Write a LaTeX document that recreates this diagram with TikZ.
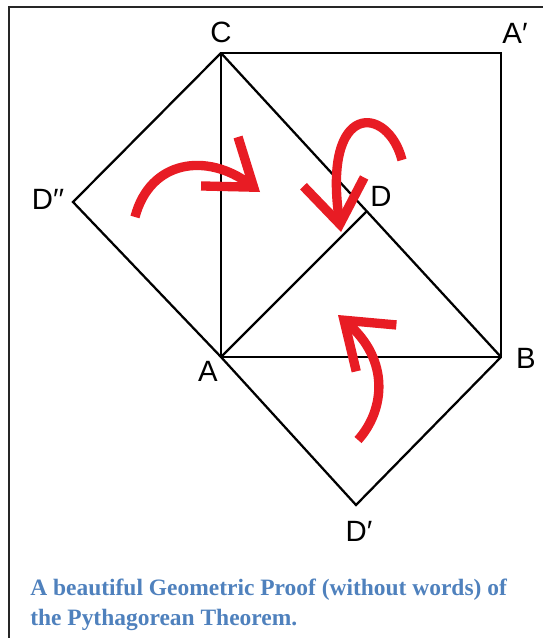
\documentclass[tikz,border=0pt]{standalone}
\usepackage{fontspec}
\setmainfont{Liberation Serif}
\setsansfont{Liberation Sans}
\usetikzlibrary{arrows.meta}
\definecolor{proofred}{RGB}{232,28,36}
\definecolor{captionblue}{RGB}{79,129,189}
\tikzset{
    edgeline/.style={line width=1.7pt, black},
    turnarrow/.style={-{Straight Barb[length=32pt,width=46pt]}, line width=7pt, proofred},
    vlabel/.style={font=\sffamily\fontsize{22}{24}\selectfont},
    captext/.style={font=\bfseries\fontsize{17.6}{20}\selectfont, text=captionblue, inner sep=0pt, anchor=base west},
    framebox/.style={line width=1pt, black!85}
}

\begin{document}
\begin{tikzpicture}[x=0.75pt,y=-0.75pt]
    \useasboundingbox (0,0) rectangle (543,638);
    \draw[framebox] (9,638) -- (9,7) -- (543,7);

    % corners
    \coordinate (C) at (221,53);
    \coordinate (Ap) at (501,53);
    \coordinate (B) at (501,357);
    \coordinate (A) at (221,357);
    \coordinate (D) at (367,211);
    \coordinate (Dpp) at (73,202);
    \coordinate (Dp) at (356,505);

    \draw[edgeline] (C) -- (Ap) -- (B) -- (A) -- cycle;
    \draw[edgeline] (C) -- (B);
    \draw[edgeline] (A) -- (D);
    \draw[edgeline] (C) -- (Dpp) -- (A);
    \draw[edgeline] (A) -- (Dp) -- (B);

    \node[vlabel] (labC) at (221,32) {C};
    \node[vlabel] (labAp) at (515,33) {A′};
    \node[vlabel] (labB) at (526,358) {B};
    \node[vlabel] (labA) at (208,371) {A};
    \node[vlabel] (labD) at (381,196) {D};
    \node[vlabel] (labDpp) at (48,199) {D′′};
    \node[vlabel] (labDp) at (359,531) {D′};

    % the three turns
    \coordinate (tailL) at (135,217);
    \coordinate (tipL) at (260,192);
    \coordinate (tailT) at (402,160);
    \coordinate (tipT) at (341,232);
    \coordinate (tailB) at (358,440);
    \coordinate (tipB) at (338,315);
    \draw[turnarrow] (tailL) .. controls (150,160) and (207,152) .. (tipL);
    \draw[turnarrow] (tailT) .. controls (388,105) and (322,100) .. (tipT);
    \draw[turnarrow] (tailB) .. controls (385,410) and (390,360) .. (tipB);

    \node[captext] (cap1) at (30,595) {A beautiful Geometric Proof (without words) of};
    \node[captext] (cap2) at (30,625) {the Pythagorean Theorem.};
\end{tikzpicture}
\end{document}
